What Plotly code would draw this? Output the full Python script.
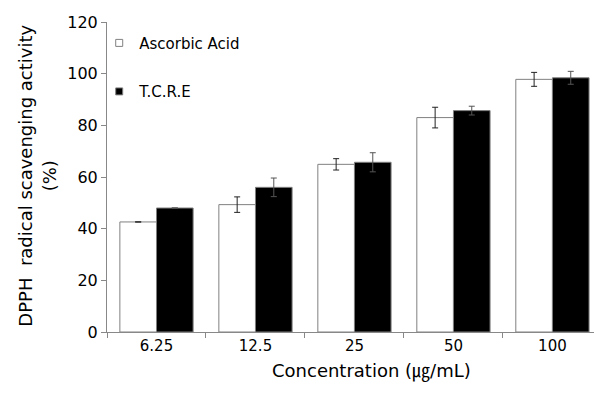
import plotly.graph_objects as go

categories = ["6.25", "12.5", "25", "50", "100"]
ascorbic = [42.6, 49.3, 64.9, 83.0, 97.8]
ascorbic_err = [None, 3.0, 2.2, 4.0, 2.7]
tcre = [48.0, 56.0, 65.7, 85.7, 98.4]
tcre_err = [None, 3.6, 3.7, 1.7, 2.5]
series_names = ["Ascorbic Acid", "T.C.R.E"]
x_title = "Concentration (㎍/mL)"
y_title = "DPPH  radical scavenging activity<br>(%)"

FONT = "DejaVu Sans, Noto Sans CJK KR, sans-serif"

fig = go.Figure()
fig.add_trace(go.Bar(
    x=categories, y=ascorbic, name=series_names[0], showlegend=False,
    marker=dict(color="white", line=dict(color="#808080", width=1)),
    error_y=dict(type="data", array=ascorbic_err, color="#222222", thickness=1, width=3),
))
fig.add_trace(go.Bar(
    x=categories, y=tcre, name=series_names[1], showlegend=False,
    marker=dict(color="black", line=dict(color="#808080", width=1)),
    error_y=dict(type="data", array=tcre_err, color="#555555", thickness=1, width=3),
))
# legend-only entries with small square symbols
for nm, col, grp in [(series_names[0], "white", "a"), (series_names[1], "black", "b")]:
    fig.add_trace(go.Scatter(
        x=[None], y=[None], mode="markers", name=nm, legendgroup=grp,
        marker=dict(symbol="square", size=7, color=col, line=dict(color="#808080", width=1)),
    ))

fig.update_layout(
    width=594, height=403,
    margin=dict(l=107, r=0, t=22, b=71),
    paper_bgcolor="white", plot_bgcolor="white",
    barmode="group", bargap=0.26, bargroupgap=0,
    font=dict(family=FONT, size=15, color="black"),
    showlegend=True,
    legend=dict(x=-0.016, y=0.985, xanchor="left", yanchor="top",
                bgcolor="rgba(0,0,0,0)", font=dict(size=15),
                traceorder="grouped", tracegroupgap=26,
                itemwidth=30),
    xaxis=dict(
        type="category", range=[-0.5, 4.42],
        showline=True, linecolor="#888888", linewidth=1,
        ticks="outside", ticklen=5, tickcolor="#888888", tickson="boundaries",
        tickfont=dict(size=15),
        showgrid=False, zeroline=False,
    ),
    yaxis=dict(
        range=[0, 120], dtick=20, tick0=0,
        showline=True, linecolor="#888888", linewidth=1,
        ticks="outside", ticklen=5, tickcolor="#888888",
        tickfont=dict(size=16),
        showgrid=False, zeroline=False,
    ),
    annotations=[
        dict(text=x_title, xref="paper", yref="paper",
             x=(371 - 107) / 487, y=-(371 - 331.7) / 309.7,
             xanchor="center", yanchor="middle", showarrow=False,
             font=dict(size=18)),
        dict(text=y_title, xref="paper", yref="paper",
             x=(37 - 107) / 487, y=(331.7 - 175.5) / 309.7,
             xanchor="center", yanchor="middle", showarrow=False,
             textangle=-90, font=dict(size=18)),
    ],
)

fig.write_html("out.html")
